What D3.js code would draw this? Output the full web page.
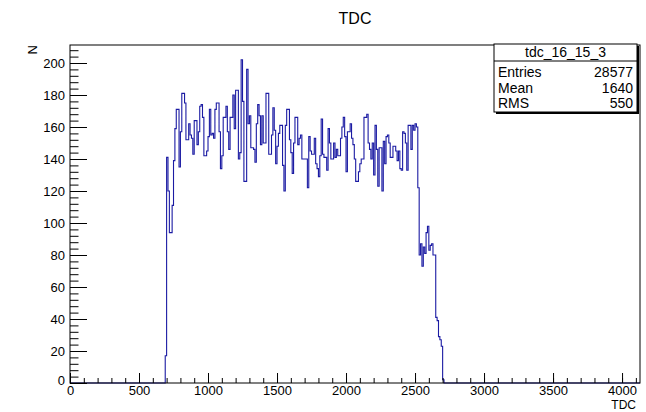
<!DOCTYPE html>
<html><head><meta charset="utf-8">
<script src="https://cdn.jsdelivr.net/npm/d3@7"></script>
<style>body{margin:0;background:#fff}svg{font-family:"Liberation Sans",Arial,Helvetica,sans-serif}</style>
</head><body><svg id="c" width="646" height="412"></svg>
<script>
// ---- data ----
const histName = "tdc_16_15_3";
const title = "TDC";
const xTitle = "TDC";
const yTitle = "N";
const xRange = [0, 4130];
const yRange = [0, 211.25];
const binWidth = 10;
const firstBinLow = 690;
const counts = [17,
141,120,94,94,111,139,159,171,171,135,
157,181,181,175,152,152,162,155,153,143,
164,164,149,157,173,174,166,142,142,145,
154,171,155,156,153,171,175,175,157,134,
142,166,166,173,157,146,166,166,180,159,
183,183,140,144,202,176,126,126,196,162,
167,147,147,146,138,162,174,167,149,167,
150,150,181,181,143,143,155,172,158,137,
148,156,161,161,136,120,161,171,171,152,
144,131,150,166,166,149,153,155,140,140,
140,140,122,154,145,143,143,153,137,134,
129,142,165,143,141,141,133,159,150,140,
140,150,141,146,142,142,153,160,166,154,
132,157,157,162,153,149,140,126,126,132,
137,140,140,166,166,168,150,146,140,150,
130,161,146,123,147,147,120,151,137,154,
155,150,141,141,148,148,145,139,145,134,
133,157,156,150,133,161,161,146,161,158,
162,160,122,80,87,73,85,81,94,98,
83,86,87,80,80,41,39,29,27,23,
2];
const statLabels = ["Entries", "Mean", "RMS"];
const statValues = ["28577", "1640", "550"];
const xMajor = [0,500,1000,1500,2000,2500,3000,3500,4000];
const yMajor = [0,20,40,60,80,100,120,140,160,180,200];

// ---- layout ----
const svg = d3.select("#c");
const L = 70, R = 640, T = 45, B = 383;
const x = d3.scaleLinear().domain(xRange).range([L, R]);
const y = d3.scaleLinear().domain(yRange).range([B, T]);
const col = "#1b1ba3";

// histogram path (full range, zeros outside)
const pts = [[x(xRange[0]), y(0)]];
pts.push([x(firstBinLow), y(0)]);
counts.forEach((c, i) => {
  const lo = firstBinLow + i * binWidth, hi = lo + binWidth;
  pts.push([x(lo), y(c)]);
  pts.push([x(hi), y(c)]);
});
pts.push([x(firstBinLow + counts.length * binWidth), y(0)]);
pts.push([x(xRange[1]), y(0)]);
svg.append("path").attr("d", d3.line()(pts)).attr("fill", "none")
  .attr("stroke", col).attr("stroke-width", 1.1);

// axes
const xMinor = d3.range(0, 4101, 100);
const yMinor = d3.range(0, 211, 4);
const ax = svg.append("g").attr("transform", `translate(0,${B})`);
ax.call(d3.axisBottom(x).tickValues(xMinor).tickSize(-5).tickFormat(""));
ax.call(g => g.select(".domain").remove());
const ax2 = svg.append("g").attr("transform", `translate(0,${B})`);
ax2.call(d3.axisBottom(x).tickValues(xMajor).tickSize(-10).tickPadding(3).tickFormat(d3.format("d")));
ax2.call(g => g.select(".domain").remove());
const ay = svg.append("g").attr("transform", `translate(${L},0)`);
ay.call(d3.axisLeft(y).tickValues(yMinor).tickSize(-8.5).tickFormat(""));
ay.call(g => g.select(".domain").remove());
const ay2 = svg.append("g").attr("transform", `translate(${L},0)`);
ay2.call(d3.axisLeft(y).tickValues(yMajor).tickSize(-17).tickPadding(5).tickFormat(d3.format("d")));
ay2.call(g => g.select(".domain").remove());
svg.selectAll(".tick line").attr("stroke", "#000").attr("stroke-width", 1);
svg.selectAll(".tick text").attr("font-size", 13).attr("fill", "#000")
  .attr("font-family", '"Liberation Sans",Arial,sans-serif');
ay2.selectAll(".tick text").filter(d => d === 0).attr("dy", "0.1em");

// frame
svg.append("rect").attr("x", L).attr("y", T).attr("width", R - L).attr("height", B - T)
  .attr("fill", "none").attr("stroke", "#000").attr("stroke-width", 1);

// titles
svg.append("text").attr("x", 355).attr("y", 24).attr("text-anchor", "middle")
  .attr("font-size", 16).text(title);
svg.append("text").attr("x", 636).attr("y", 409).attr("text-anchor", "end")
  .attr("font-size", 12).text(xTitle);
svg.append("text").attr("transform", `translate(37,${T}) rotate(-90)`)
  .attr("text-anchor", "end").attr("font-size", 13).text(yTitle);

// stats box
const sx = 494, sy = 44, sw = 143, sh = 68;
svg.append("rect").attr("x", sx + 2).attr("y", sy + 2).attr("width", sw).attr("height", sh).attr("fill", "#000");
svg.append("rect").attr("x", sx).attr("y", sy).attr("width", sw).attr("height", sh)
  .attr("fill", "#fff").attr("stroke", "#000").attr("stroke-width", 1);
svg.append("line").attr("x1", sx).attr("x2", sx + sw).attr("y1", 61).attr("y2", 61).attr("stroke", "#000");
svg.append("text").attr("x", sx + sw / 2).attr("y", 57).attr("text-anchor", "middle")
  .attr("font-size", 14).text(histName);
statLabels.forEach((s, i) => {
  const by = 77 + i * 15.7;
  svg.append("text").attr("x", sx + 4).attr("y", by).attr("font-size", 14).text(s);
  svg.append("text").attr("x", sx + sw - 4).attr("y", by).attr("text-anchor", "end")
    .attr("font-size", 14).text(statValues[i]);
});
</script></body></html>
